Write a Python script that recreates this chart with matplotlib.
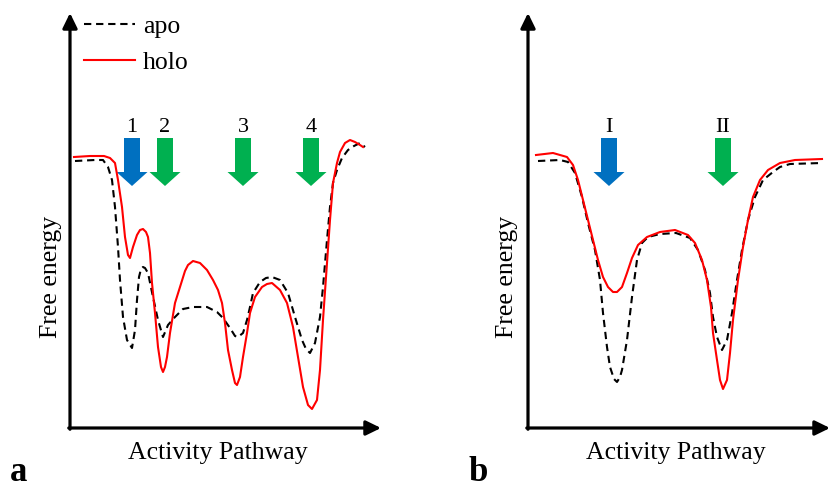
import matplotlib
matplotlib.use("Agg")
from matplotlib import pyplot as plt
from matplotlib.lines import Line2D

plt.rcParams['font.family'] = ['Liberation Serif', 'DejaVu Serif']

# panel a: free energy (x along pathway, E up)
a_holo_x = [4, 20, 34, 40, 45, 48, 52, 55, 58, 60, 63, 67, 70, 73, 76, 78, 80, 82, 85, 88, 91, 93, 95, 97,
            100, 105, 110, 115, 118, 123, 130, 137, 143, 148, 152, 155, 158, 162, 165, 167, 170, 173, 177,
            180, 185, 192, 197, 202, 210, 217, 223, 228, 233, 238, 242, 247, 250, 253, 257, 260, 263, 267,
            270, 275, 280, 285, 290, 293]
a_holo_e = [271, 272, 272, 270, 265, 248, 221, 191, 173, 170, 181, 193, 198, 199, 196, 191, 175, 145, 115, 81,
            61, 56, 61, 71, 95, 125, 141, 157, 163, 167, 165, 158, 148, 138, 125, 105, 78, 58, 45, 43, 51,
            71, 95, 115, 131, 141, 144, 145, 138, 125, 101, 71, 41, 23, 19, 28, 58, 108, 165, 208, 245, 265,
            276, 285, 288, 286, 283, 281]
a_apo_x = [5, 25, 33, 38, 42, 45, 48, 50, 53, 57, 62, 65, 67, 69, 71, 73, 75, 78, 83, 88, 93, 98, 105,
           113, 123, 137, 147, 153, 160, 165, 168, 173, 177, 180, 183, 190, 196, 202, 210, 218, 225, 232,
           236, 240, 245, 250, 253, 257, 260, 263, 267, 272, 278, 284, 290, 295]
a_apo_e = [267, 268, 268, 261, 248, 221, 181, 148, 111, 88, 80, 98, 128, 151, 159, 161, 160, 155, 131, 108,
           91, 103, 111, 119, 121, 121, 116, 110, 100, 92, 91, 95, 108, 121, 135, 146, 150, 151, 148, 135,
           111, 88, 79, 75, 85, 111, 141, 188, 221, 245, 258, 270, 278, 282, 285, 281]

# panel b
b_holo_x = [8, 25, 32, 39, 45, 50, 55, 60, 65, 70, 75, 80, 85, 89, 94, 99, 104, 110, 119, 132, 147, 160,
            167, 174, 179, 183, 185, 189, 192, 195, 199, 202, 205, 210, 215, 220, 225, 232, 240, 252, 267, 294]
b_holo_e = [273, 275, 273, 271, 263, 248, 228, 208, 188, 168, 151, 141, 136, 136, 141, 155, 170, 183, 191,
            196, 198, 193, 185, 168, 148, 121, 95, 68, 48, 39, 48, 75, 108, 148, 181, 208, 231, 248, 258,
            265, 268, 269]
b_apo_x = [10, 32, 40, 47, 54, 60, 67, 72, 75, 79, 82, 86, 89, 92, 94, 99, 104, 109, 114, 120, 132, 148,
           162, 170, 177, 182, 185, 189, 194, 199, 204, 209, 214, 220, 227, 235, 245, 252, 262, 294]
b_apo_e = [267, 268, 266, 255, 231, 205, 178, 148, 115, 81, 61, 49, 46, 51, 58, 88, 131, 168, 185, 191,
           194, 195, 190, 178, 158, 135, 111, 91, 78, 88, 115, 148, 178, 208, 231, 248, 256, 261, 264, 265]

# state markers
a_sites = [62, 95, 173, 241]
a_labels = ["1", "2", "3", "4"]
a_colors = ["#0070C0", "#00B050", "#00B050", "#00B050"]
b_sites = [81, 195]
b_labels = ["I", "II"]
b_colors = ["#0070C0", "#00B050"]

W, H = 830, 488
fig = plt.figure(figsize=(8.3, 4.88), dpi=100)


def panel(left, width, hx, he, ax_, ae, sites, labels, colors):
    ax = fig.add_axes([left / W, 1 - 428 / H, width / W, 415 / H])
    ax.set_xlim(0, width)
    ax.set_ylim(0, 415)
    ax.axis('off')
    ax.plot(ax_, ae, color='black', lw=1.5, dashes=(3.5, 2.3), clip_on=False,
            dash_joinstyle='round', label='apo')
    ax.plot(hx, he, color='red', lw=1.5, clip_on=False, solid_joinstyle='round', label='holo')
    for s, lab, c in zip(sites, labels, colors):
        ax.arrow(s, 290, 0, -48, width=16, head_width=31, head_length=14,
                 length_includes_head=True, fc=c, ec='none')
        ax.text(s, 296, lab, ha='center', va='baseline', fontsize=16)
    ap = dict(arrowstyle='-|>,head_length=0.45,head_width=0.22', lw=2.3, color='black',
              mutation_scale=20, shrinkA=0, shrinkB=0)
    ax.annotate('', xy=(0, 1), xytext=(0, -0.003), xycoords='axes fraction', arrowprops=ap)
    ax.annotate('', xy=(1, 0), xytext=(-0.004, 0), xycoords='axes fraction', arrowprops=ap)
    return ax


ax_a = panel(70, 311, a_holo_x, a_holo_e, a_apo_x, a_apo_e, a_sites, a_labels, a_colors)
ax_b = panel(528, 302, b_holo_x, b_holo_e, b_apo_x, b_apo_e, b_sites, b_labels, b_colors)

handles = [Line2D([], [], color='black', lw=1.5, dashes=(3.5, 2.3)),
           Line2D([], [], color='red', lw=1.5)]
fig.legend(handles, ['apo', 'holo'], loc='upper left', bbox_to_anchor=(84 / W, 1 - 15 / H),
           frameon=False, fontsize=18.5, handlelength=2.0, handletextpad=0.3,
           labelspacing=0.52, borderpad=0, borderaxespad=0)

for cx, fx in [(218, 51), (676, 507)]:
    fig.text(cx / W, 1 - 459 / H, "Activity Pathway", ha='center', va='baseline', fontsize=18.5)
    fig.text(fx / W, 1 - 277 / H, "Free energy", ha='center', va='center', rotation=90, fontsize=18.5)

fig.text(10 / W, 1 - 481 / H, "a", ha='left', va='baseline', fontsize=25, fontweight='bold')
fig.text(468 / W, 1 - 481 / H, "b", ha='left', va='baseline', fontsize=25, fontweight='bold')

plt.savefig("out.png", dpi=100)
